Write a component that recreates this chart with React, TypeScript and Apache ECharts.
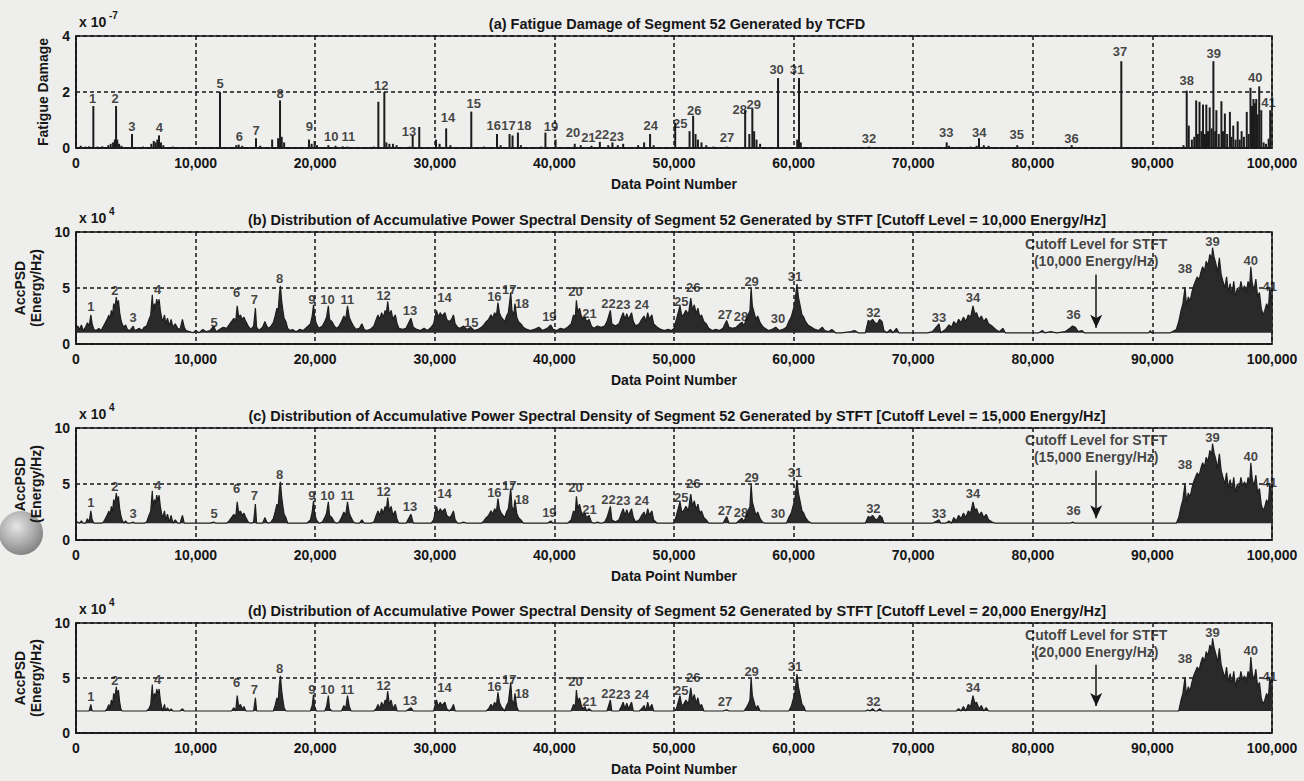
import React, { useEffect, useRef } from 'react';
import * as echarts from 'echarts';

// ---------- DATA ----------
// Panel (a): fatigue damage spikes [data point number, damage (x1e-7)]
const damageSpikes: [number, number][] = [
  [400, 0.08], [800, 0.05], [1100, 0.06], [1450, 1.5], [1800, 0.05], [2200, 0.06], [2700, 0.1], [2900, 0.15],
  [3100, 0.2], [3250, 0.3], [3350, 1.5], [3450, 0.3], [3600, 0.15], [3800, 0.08], [4680, 0.5], [5600, 0.05],
  [6300, 0.15], [6500, 0.25], [6650, 0.2], [6800, 0.3], [6940, 0.45], [7100, 0.2], [7300, 0.1], [8100, 0.05],
  [12040, 2.0], [13400, 0.1], [13600, 0.12], [13900, 0.08], [15050, 0.35], [15400, 0.08], [16400, 0.3],
  [16900, 0.35], [17060, 1.7], [17200, 0.4], [17400, 0.2], [19480, 0.3], [19700, 0.15], [19950, 0.25],
  [20150, 0.1], [21100, 0.1], [21700, 0.08], [22300, 0.06], [22700, 0.05], [24900, 0.05], [25280, 1.65],
  [25780, 2.0], [25950, 0.2], [26200, 0.15], [26500, 0.15], [26800, 0.1], [27900, 0.05], [28150, 0.45],
  [28700, 0.75], [30100, 0.3], [30400, 0.15], [30950, 0.7], [31300, 0.1], [33050, 1.3], [34100, 0.05],
  [35200, 0.5], [35500, 0.1], [36250, 0.5], [36500, 0.45], [36950, 0.55], [37200, 0.1], [38900, 0.05],
  [39250, 0.55], [40100, 0.3], [41700, 0.15], [42200, 0.1], [43100, 0.08], [43800, 0.22], [44500, 0.1],
  [44850, 0.2], [45300, 0.1], [45750, 0.15], [47000, 0.1], [47500, 0.2], [48000, 0.5], [48300, 0.1],
  [50100, 0.9], [51300, 0.6], [51600, 1.15], [51800, 0.5], [52000, 0.3], [52300, 0.2], [52700, 0.1],
  [53300, 0.05], [54400, 0.05], [55950, 1.35], [56300, 0.5], [56550, 1.4], [56700, 0.6], [56900, 0.3],
  [57200, 0.15], [58700, 2.5], [60300, 0.3], [60450, 2.5], [60600, 0.2], [66300, 0.05], [72800, 0.2],
  [73000, 0.08], [74800, 0.05], [75300, 0.08], [75500, 0.35], [75900, 0.1], [76300, 0.08], [78700, 0.1],
  [83250, 0.1], [87400, 3.1], [92600, 0.1], [92870, 2.05], [93040, 0.8], [93300, 0.3], [93500, 0.4],
  [93660, 1.7], [93800, 0.5], [93940, 1.65], [94100, 0.6], [94230, 1.55], [94400, 0.5], [94510, 1.55],
  [94650, 0.6], [94790, 1.45], [94950, 0.7], [95100, 3.1], [95250, 0.6], [95350, 1.35], [95550, 0.5],
  [95770, 1.67], [95900, 0.6], [96060, 1.23], [96250, 0.5], [96480, 1.29], [96600, 0.4], [96760, 0.8],
  [96950, 0.3], [97130, 0.95], [97300, 0.3], [97460, 0.6], [97650, 0.4], [97890, 1.29], [98050, 0.5],
  [98200, 2.15], [98330, 1.5], [98450, 1.75], [98570, 1.6], [98680, 1.75], [98800, 1.2], [98930, 2.2],
  [99100, 1.35], [99300, 0.2], [99500, 0.15], [99720, 0.33], [99850, 1.35],
];

// Panel (a) peak labels [label, x, y-centre]
const damageLabels: [string, number, number][] = [
  ['1', 1390, 1.78], ['2', 3260, 1.78], ['3', 4680, 0.76], ['4', 6970, 0.74], ['5', 12040, 2.31],
  ['6', 13660, 0.4], ['7', 15050, 0.64], ['8', 17060, 1.93], ['9', 19510, 0.76], ['10', 21350, 0.4],
  ['11', 22770, 0.4], ['12', 25530, 2.25], ['13', 27840, 0.6], ['14', 31100, 1.08], ['15', 33260, 1.6],
  ['16', 34930, 0.81], ['17', 36170, 0.81], ['18', 37480, 0.81], ['19', 39720, 0.78], ['20', 41560, 0.54],
  ['21', 42840, 0.36], ['22', 43970, 0.48], ['23', 45210, 0.42], ['24', 48050, 0.82], ['25', 50530, 0.89],
  ['26', 51700, 1.33], ['27', 54430, 0.39], ['28', 55500, 1.39], ['29', 56670, 1.56], ['30', 58580, 2.8],
  ['31', 60280, 2.82], ['32', 66310, 0.35], ['33', 72770, 0.56], ['34', 75530, 0.56], ['35', 78650, 0.5],
  ['36', 83230, 0.35], ['37', 87300, 3.45], ['38', 92870, 2.4], ['39', 95130, 3.36], ['40', 98590, 2.52],
  ['41', 99700, 1.63],
];

// Accumulative PSD profile (x1e4 Energy/Hz) [data point number, AccPSD]
const psdProfile: [number, number][] = [
  [0, 1.4], [150, 1.6], [300, 1.3], [450, 1.7], [600, 1.2], [800, 1.5], [950, 1.9], [1100, 1.6], [1240, 2.6],
  [1350, 1.8], [1500, 1.3], [1700, 1.2], [1900, 1.4], [2100, 1.2], [2300, 1.6], [2450, 1.9], [2600, 2.2],
  [2750, 2.6], [2850, 2.1], [2950, 3.0], [3050, 2.5], [3150, 3.6], [3250, 3.2], [3370, 4.2], [3450, 3.5],
  [3550, 3.9], [3650, 2.8], [3750, 2.2], [3850, 1.8], [4000, 1.5], [4150, 1.7], [4300, 1.3], [4500, 1.2],
  [4790, 1.6], [4900, 1.2], [5100, 1.3], [5300, 1.4], [5500, 1.2], [5700, 1.5], [5900, 1.6], [6100, 2.2],
  [6250, 2.6], [6380, 4.4], [6450, 2.8], [6550, 3.6], [6650, 3.3], [6750, 4.0], [6850, 3.5], [6950, 4.0],
  [7050, 3.0], [7150, 2.4], [7250, 2.0], [7400, 2.6], [7500, 1.8], [7650, 2.3], [7800, 1.6], [7950, 2.2],
  [8100, 1.5], [8300, 1.8], [8500, 1.4], [8700, 1.3], [8900, 2.2], [9050, 1.5], [9200, 1.2], [9500, 1.1],
  [9800, 0.9], [10000, 1.2], [10300, 1.0], [10600, 1.3], [10900, 1.1], [11200, 1.2], [11520, 1.6],
  [11700, 1.1], [12000, 1.3], [12300, 1.5], [12600, 1.4], [12800, 1.7], [13000, 2.0], [13200, 2.3],
  [13350, 2.0], [13480, 3.4], [13600, 2.4], [13750, 2.6], [13900, 2.2], [14050, 2.4], [14200, 2.0],
  [14400, 1.6], [14600, 1.3], [14850, 1.6], [15000, 3.2], [15100, 1.5], [15300, 1.2], [15600, 1.5],
  [15800, 2.0], [15950, 1.6], [16100, 1.4], [16300, 1.6], [16500, 1.9], [16650, 2.5], [16800, 3.2],
  [16900, 2.8], [17000, 4.4], [17090, 5.2], [17200, 3.8], [17300, 3.0], [17400, 2.3], [17550, 2.0],
  [17700, 1.4], [17900, 1.2], [18100, 1.3], [18400, 1.1], [18700, 1.3], [19000, 1.2], [19300, 1.5],
  [19600, 1.8], [19750, 2.5], [19860, 3.5], [19950, 2.4], [20100, 1.8], [20300, 1.4], [20600, 1.6],
  [20800, 2.0], [20950, 2.4], [21100, 3.4], [21200, 2.2], [21400, 2.0], [21600, 1.6], [21800, 1.4],
  [22000, 1.6], [22200, 2.0], [22400, 2.5], [22550, 2.2], [22700, 3.4], [22850, 2.4], [23000, 2.0],
  [23200, 1.6], [23400, 1.3], [23700, 1.4], [23900, 1.8], [24100, 1.3], [24300, 1.2], [24600, 1.3],
  [24900, 1.6], [25100, 2.2], [25250, 2.6], [25400, 2.2], [25550, 2.8], [25700, 2.4], [25850, 3.0],
  [25950, 2.7], [26060, 3.8], [26200, 2.6], [26350, 3.0], [26500, 2.2], [26700, 2.6], [26850, 1.8],
  [27000, 1.4], [27300, 1.3], [27600, 1.4], [28000, 2.3], [28200, 1.5], [28500, 1.3], [28800, 1.2],
  [29100, 1.4], [29400, 1.2], [29700, 1.5], [29900, 1.8], [30140, 3.0], [30300, 2.4], [30450, 2.8],
  [30600, 2.5], [30850, 2.8], [31000, 2.2], [31200, 2.0], [31400, 2.2], [31560, 2.6], [31700, 1.8],
  [31900, 1.5], [32100, 1.4], [32400, 1.6], [32700, 1.3], [33000, 1.5], [33300, 1.2], [33600, 1.3],
  [33900, 1.5], [34100, 1.7], [34300, 2.0], [34500, 2.2], [34700, 2.6], [34850, 2.3], [35000, 2.8],
  [35150, 2.5], [35280, 3.7], [35400, 2.8], [35550, 2.4], [35700, 2.2], [35850, 2.0], [36000, 2.5],
  [36150, 2.8], [36350, 4.6], [36450, 3.0], [36600, 2.6], [36700, 3.6], [36850, 2.4], [37000, 2.0],
  [37200, 1.8], [37400, 1.5], [37700, 1.3], [38000, 1.2], [38300, 1.3], [38700, 1.5], [39000, 1.2],
  [39400, 1.4], [39700, 1.7], [39900, 1.3], [40200, 1.2], [40500, 1.4], [40800, 1.3], [41100, 1.5],
  [41400, 1.8], [41600, 2.6], [41750, 2.4], [41840, 3.9], [41950, 2.8], [42100, 3.2], [42250, 2.5],
  [42400, 2.2], [42550, 2.4], [42700, 2.0], [42900, 2.2], [43100, 1.6], [43300, 1.4], [43600, 1.6],
  [43900, 1.5], [44200, 1.6], [44400, 2.0], [44680, 3.0], [44800, 1.8], [45100, 1.6], [45400, 1.8],
  [45600, 2.4], [45750, 2.8], [45900, 2.2], [46050, 2.7], [46200, 2.2], [46450, 2.8], [46600, 2.0],
  [46800, 1.6], [47100, 1.8], [47300, 2.2], [47500, 2.5], [47650, 2.0], [47800, 2.8], [47950, 2.2],
  [48150, 2.6], [48300, 1.8], [48600, 1.5], [48900, 1.3], [49200, 1.2], [49500, 1.3], [49800, 1.2],
  [50000, 1.4], [50200, 2.2], [50350, 2.8], [50500, 3.4], [50650, 2.5], [50800, 2.6], [51000, 3.0],
  [51200, 2.6], [51400, 4.1], [51550, 3.0], [51700, 3.5], [51850, 2.7], [52000, 3.2], [52150, 2.4],
  [52300, 2.6], [52500, 2.0], [52700, 1.8], [52900, 1.4], [53200, 1.2], [53500, 1.3], [53800, 1.2],
  [54100, 1.4], [54400, 2.1], [54600, 1.5], [54900, 1.4], [55200, 1.5], [55500, 1.8], [55700, 1.95],
  [55850, 1.6], [56050, 2.3], [56200, 2.6], [56350, 3.0], [56450, 5.0], [56550, 3.4], [56700, 2.8],
  [56850, 2.2], [57000, 2.5], [57200, 1.9], [57400, 1.6], [57600, 1.4], [57900, 1.2], [58200, 1.3],
  [58500, 1.5], [58800, 1.2], [59100, 1.3], [59400, 1.5], [59600, 2.0], [59800, 2.4], [59950, 3.0],
  [60100, 3.6], [60280, 5.35], [60400, 4.2], [60550, 3.4], [60700, 2.6], [60850, 2.4], [61000, 2.0],
  [61200, 1.7], [61500, 1.5], [61800, 1.3], [62100, 1.2], [62400, 1.5], [62600, 1.2], [62900, 1.1],
  [63200, 1.3], [63500, 1.0], [64000, 0.9], [64800, 1.1], [65100, 1.2], [65400, 0.9], [66000, 1.0],
  [66240, 2.1], [66400, 2.0], [66600, 2.2], [66800, 1.9], [67000, 1.8], [67200, 2.2], [67400, 2.0],
  [67550, 1.2], [67800, 1.0], [68100, 1.3], [68300, 1.0], [68600, 1.4], [68800, 1.0], [69200, 0.9],
  [70500, 0.9], [71200, 1.0], [71600, 1.1], [72160, 1.8], [72300, 1.0], [72700, 1.3], [73000, 1.7],
  [73200, 1.5], [73400, 2.0], [73600, 1.7], [73800, 2.2], [74000, 1.9], [74200, 2.4], [74400, 2.0],
  [74600, 2.6], [74800, 2.4], [75000, 3.4], [75150, 2.7], [75300, 2.8], [75500, 2.2], [75700, 2.5],
  [75900, 2.0], [76100, 2.3], [76300, 1.8], [76600, 1.6], [76900, 1.3], [77200, 1.1], [77500, 1.4],
  [77700, 1.0], [78000, 0.9], [80500, 1.0], [80800, 1.2], [81000, 1.0], [81500, 1.1], [82000, 0.9],
  [82700, 1.1], [83100, 1.4], [83330, 1.6], [83550, 1.5], [83800, 1.1], [84100, 1.2], [84300, 1.0],
  [85000, 0.9], [89700, 0.9], [89820, 1.2], [89950, 0.9], [91000, 0.9], [91500, 1.0], [92000, 1.3],
  [92200, 2.0], [92400, 3.0], [92550, 3.6], [92730, 5.05], [92850, 3.4], [93000, 4.2], [93150, 3.8],
  [93300, 4.6], [93450, 5.2], [93600, 5.6], [93750, 6.0], [93900, 5.7], [94050, 6.4], [94200, 6.9],
  [94350, 6.5], [94500, 7.4], [94650, 7.0], [94800, 8.0], [94950, 7.6], [95030, 8.6], [95150, 7.8],
  [95300, 7.2], [95450, 6.4], [95600, 7.7], [95750, 6.2], [95900, 5.6], [96050, 5.0], [96200, 6.0],
  [96350, 4.6], [96500, 5.4], [96650, 4.4], [96800, 5.6], [96950, 4.2], [97100, 5.0], [97250, 4.6],
  [97400, 5.6], [97550, 4.8], [97700, 5.2], [97850, 4.6], [98000, 5.6], [98120, 5.0], [98230, 6.9],
  [98350, 5.4], [98500, 4.8], [98650, 5.8], [98800, 4.2], [98950, 4.6], [99100, 3.2], [99250, 2.6],
  [99400, 3.0], [99550, 3.6], [99700, 3.2], [99820, 5.1], [99950, 3.8], [100000, 3.5],
];

// AccPSD peak labels [label, x, y-centre]
const psdLabels: [string, number, number][] = [
  ['1', 1240, 3.34], ['2', 3250, 4.78], ['3', 4770, 2.39], ['4', 6820, 4.84], ['5', 11550, 1.8],
  ['6', 13430, 4.6], ['7', 14910, 3.94], ['8', 17030, 5.88], ['9', 19720, 4.0], ['10', 21020, 4.0],
  ['11', 22690, 4.0], ['12', 25720, 4.3], ['13', 27920, 2.99], ['14', 30810, 4.18], ['15', 33040, 1.91],
  ['16', 34980, 4.24], ['17', 36220, 4.9], ['18', 37280, 3.58], ['19', 39580, 2.45], ['20', 41770, 4.69],
  ['21', 42930, 2.75], ['22', 44520, 3.58], ['23', 45760, 3.49], ['24', 47300, 3.49], ['25', 50600, 3.82],
  ['26', 51600, 5.06], ['27', 54260, 2.65], ['28', 55600, 2.5], ['29', 56490, 5.59], ['30', 58690, 2.29],
  ['31', 60110, 6.03], ['32', 66670, 2.79], ['33', 72160, 2.41], ['34', 75000, 4.12], ['36', 83400, 2.65],
  ['38', 92730, 6.76], ['39', 95030, 9.12], ['40', 98230, 7.5], ['41', 99820, 5.15],
];

const cutoffLevels = [1.0, 1.5, 2.0]; // x1e4 Energy/Hz
const cutoffNames = ['10,000', '15,000', '20,000'];
const hiddenPsdLabels = [[], ['15'], ['3', '5', '15', '19', '28', '30', '33', '36']];
const cutoffArrowX = 85300;
const xTicks = [0, 10000, 20000, 30000, 40000, 50000, 60000, 70000, 80000, 90000, 100000];

const titles = [
  '(a) Fatigue Damage of Segment 52 Generated by TCFD',
  '(b) Distribution of Accumulative Power Spectral Density of Segment 52 Generated by STFT [Cutoff Level = 10,000 Energy/Hz]',
  '(c) Distribution of Accumulative Power Spectral Density of Segment 52 Generated by STFT [Cutoff Level = 15,000 Energy/Hz]',
  '(d) Distribution of Accumulative Power Spectral Density of Segment 52 Generated by STFT [Cutoff Level = 20,000 Energy/Hz]',
];

// ---------- LAYOUT ----------
const FONT = '"Liberation Sans", Arial, sans-serif';
const INK = '#161616';
const BOLD = 'bold';
const panels = [
  { top: 36, height: 112 },
  { top: 232, height: 112 },
  { top: 428, height: 112 },
  { top: 623, height: 110 },
];
const LEFT = 76;
const WIDTH = 1196;

function buildOption() {
  const grid = panels.map((p) => ({
    left: LEFT, width: WIDTH, top: p.top, height: p.height,
    show: true, borderColor: INK, borderWidth: 1.5, backgroundColor: 'transparent',
  }));

  const xAxis = panels.map((_, i) => ({
    type: 'value', gridIndex: i, min: 0, max: 100000, interval: 10000,
    name: 'Data Point Number', nameLocation: 'middle', nameGap: 29,
    nameTextStyle: { fontFamily: FONT, fontSize: 14, fontWeight: BOLD, color: INK },
    axisLine: { show: true, lineStyle: { color: INK, width: 1.5 } },
    axisTick: { show: false },
    axisLabel: {
      fontFamily: FONT, fontSize: 14, fontWeight: BOLD, color: INK, margin: 8,
      formatter: (v: number) => (xTicks.includes(v) ? v.toLocaleString('en-US') : ''),
    },
    splitLine: { show: true, lineStyle: { color: INK, width: 1.5, type: [4, 3] } },
  }));

  const yAxis = panels.map((_, i) => ({
    type: 'value', gridIndex: i, min: 0, max: i === 0 ? 4 : 10, interval: i === 0 ? 2 : 5,
    name: i === 0 ? 'Fatigue Damage' : 'AccPSD\n(Energy/Hz)',
    nameLocation: 'middle', nameRotate: 90, nameGap: i === 0 ? 22 : 30,
    nameTextStyle: { fontFamily: FONT, fontSize: 14, fontWeight: BOLD, color: INK, lineHeight: 16 },
    axisLine: { show: true, lineStyle: { color: INK, width: 1.5 } },
    axisTick: { show: false },
    axisLabel: { fontFamily: FONT, fontSize: 14, fontWeight: BOLD, color: INK, margin: 6 },
    splitLine: { show: true, lineStyle: { color: INK, width: 1.5, type: [4, 3] } },
  }));

  const labelStyle = { fontFamily: FONT, fontSize: 13, fontWeight: BOLD, color: INK };

  const series: any[] = [];
  series.push({
    type: 'bar', xAxisIndex: 0, yAxisIndex: 0, data: damageSpikes, barWidth: 2,
    itemStyle: { color: '#1c1c1c' }, z: 3,
  });
  series.push({
    type: 'scatter', xAxisIndex: 0, yAxisIndex: 0, symbolSize: 1,
    itemStyle: { color: 'rgba(0,0,0,0)' }, z: 6,
    data: damageLabels.map(([n, x, y]) => ({ value: [x, y], name: n })),
    label: { show: true, position: 'inside', formatter: '{b}', ...labelStyle },
  });

  cutoffLevels.forEach((c, k) => {
    const idx = k + 1;
    series.push({
      type: 'line', xAxisIndex: idx, yAxisIndex: idx, showSymbol: false, z: 3,
      data: psdProfile.map(([x, v]) => [x, Math.max(v, c)]),
      lineStyle: { color: '#1e1e1e', width: 1.2 },
      areaStyle: { color: '#2a2a2a', opacity: 1, origin: c },
      markLine: {
        silent: true, symbol: ['none', 'arrow'], symbolSize: [9, 13],
        lineStyle: { color: INK, width: 1.5, type: 'solid' }, label: { show: false },
        data: [[{ coord: [cutoffArrowX, 6.2] }, { coord: [cutoffArrowX, c + 0.45] }]],
      },
    });
    series.push({
      type: 'scatter', xAxisIndex: idx, yAxisIndex: idx, symbolSize: 1,
      itemStyle: { color: 'rgba(0,0,0,0)' }, z: 6,
      data: [
        ...psdLabels
          .filter(([n]) => !hiddenPsdLabels[k].includes(n))
          .map(([n, x, y]) => ({ value: [x, Math.max(y, c + 0.9)], name: n })),
        {
          value: [cutoffArrowX, 8.15],
          name: 'Cutoff Level for STFT\n(' + cutoffNames[k] + ' Energy/Hz)',
          label: { fontSize: 14, lineHeight: 17 },
        },
      ],
      label: { show: true, position: 'inside', formatter: '{b}', ...labelStyle },
    });
  });

  const title = titles.map((t, i) => ({
    text: t, left: 672, top: panels[i].top - 25, textAlign: 'center',
    textStyle: { fontFamily: FONT, fontSize: 14.5, fontWeight: BOLD, color: INK },
  }));

  const graphic: any[] = [];
  panels.forEach((p, i) => {
    graphic.push({
      type: 'text', left: 79, top: p.top - 21,
      style: { text: 'x 10', font: `bold 14px ${FONT}`, fill: INK },
    });
    graphic.push({
      type: 'text', left: 109, top: p.top - 26,
      style: { text: i === 0 ? '-7' : '4', font: `bold 10px ${FONT}`, fill: INK },
    });
  });
  graphic.push({
    type: 'circle', shape: { cx: 21, cy: 533, r: 22 },
    style: {
      fill: new echarts.graphic.RadialGradient(0.4, 0.35, 0.7, [
        { offset: 0, color: '#e6e6e6' },
        { offset: 0.6, color: '#a9a9a9' },
        { offset: 1, color: '#7d7d7d' },
      ]),
    },
  });

  return {
    animation: false,
    backgroundColor: '#eeeeec',
    title, grid, xAxis, yAxis, series, graphic,
  };
}

export default function App() {
  const ref = useRef<HTMLDivElement>(null);
  useEffect(() => {
    document.body.style.margin = '0';
    document.body.style.background = '#eeeeec';
    if (!ref.current) return;
    const chart = echarts.init(ref.current, undefined, { renderer: 'svg' });
    chart.setOption(buildOption() as any);
    return () => chart.dispose();
  }, []);
  return <div ref={ref} style={{ width: 1304, height: 781 }} />;
}
